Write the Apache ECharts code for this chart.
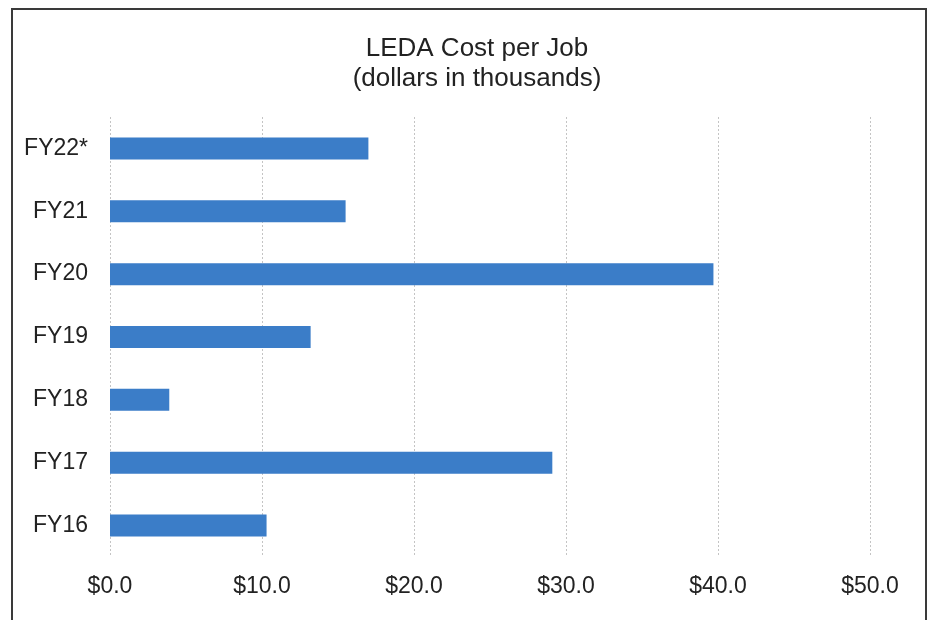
<!DOCTYPE html>
<html>
<head>
<meta charset="utf-8">
<style>html,body{margin:0;padding:0;background:#fff;}#c{width:928px;height:620px;}</style>
<script src="https://cdn.jsdelivr.net/npm/echarts@6/dist/echarts.min.js"></script>
</head>
<body>
<div id="c"></div>
<script>
var categories = ['FY16', 'FY17', 'FY18', 'FY19', 'FY20', 'FY21', 'FY22*'];
var costPerJob = [10.3, 29.1, 3.9, 13.2, 39.7, 15.5, 17.0];
var titleText = 'LEDA Cost per Job\n(dollars in thousands)';

var chart = echarts.init(document.getElementById('c'), null, {renderer: 'canvas'});
chart.setOption({
  animation: false,
  backgroundColor: '#ffffff',
  title: {
    text: titleText,
    left: 472,
    top: 29,
    textAlign: 'center',
    textStyle: {
      fontFamily: 'Liberation Sans, Arial, sans-serif',
      fontSize: 26,
      fontWeight: 'normal',
      color: '#222',
      lineHeight: 30
    }
  },
  graphic: [{
    type: 'rect',
    shape: {x: 12, y: 9, width: 914, height: 640},
    style: {fill: 'none', stroke: '#3a3a3a', lineWidth: 2},
    silent: true
  }],
  grid: {left: 110, right: 58, top: 117, bottom: 63, containLabel: false},
  xAxis: {
    type: 'value',
    min: 0,
    max: 50,
    interval: 10,
    axisLine: {show: false},
    axisTick: {show: false},
    splitLine: {show: true, lineStyle: {color: '#c4c4c4', type: [2, 2], width: 1}},
    axisLabel: {
      margin: 18,
      fontFamily: 'Liberation Sans, Arial, sans-serif',
      fontSize: 23,
      color: '#222',
      formatter: function (v) { return '$' + v.toFixed(1); }
    }
  },
  yAxis: {
    type: 'category',
    data: categories,
    axisLine: {show: false},
    axisTick: {show: false},
    splitLine: {show: false},
    axisLabel: {
      margin: 22,
      fontFamily: 'Liberation Sans, Arial, sans-serif',
      fontSize: 23,
      color: '#222'
    }
  },
  series: [{
    type: 'bar',
    data: costPerJob,
    barWidth: 22,
    itemStyle: {color: '#3b7dc8'}
  }]
});
</script>
</body>
</html>
